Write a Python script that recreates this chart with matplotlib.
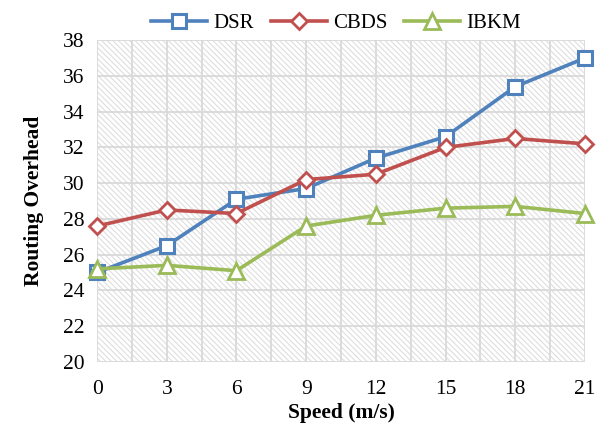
import numpy as np
import matplotlib.pyplot as plt
from matplotlib.patches import Rectangle

plt.rcParams['font.family'] = ['Liberation Serif', 'DejaVu Serif']
plt.rcParams['hatch.color'] = '#DEDEDE'
plt.rcParams['hatch.linewidth'] = 0.8

speed = [0, 3, 6, 9, 12, 15, 18, 21]
dsr = [25.0, 26.5, 29.1, 29.7, 31.4, 32.6, 35.4, 37.0]
cbds = [27.6, 28.5, 28.3, 30.2, 30.5, 32.0, 32.5, 32.2]
ibkm = [25.2, 25.4, 25.1, 27.6, 28.2, 28.6, 28.7, 28.3]

fig = plt.figure(figsize=(6.03, 4.37), dpi=100)
ax = fig.add_axes([0.161, 0.172, 0.809, 0.736])

# hatched plot area
ax.add_patch(Rectangle((0, 0), 1, 1, transform=ax.transAxes, facecolor='white',
                       edgecolor='#DEDEDE', hatch='\\\\\\\\\\\\', lw=0, zorder=0))

ax.plot(speed, dsr, color='#4F81BD', lw=2.6, marker='s', ms=10, mfc='white',
        mec='#4F81BD', mew=2.2, label='DSR', clip_on=False, zorder=3)
ax.plot(speed, cbds, color='#C0504D', lw=2.6, marker='D', ms=8, mfc='white',
        mec='#C0504D', mew=2.0, label='CBDS', clip_on=False, zorder=3)
ax.plot(speed, ibkm, color='#9BBB59', lw=2.6, marker='^', ms=11, mfc='white',
        mec='#9BBB59', mew=2.0, label='IBKM', clip_on=False, zorder=3)

ax.set_xlim(0, 21)
ax.set_ylim(20, 38)
ax.set_xticks(speed)
ax.set_xticks(np.arange(1.5, 21, 3), minor=True)
ax.set_yticks(np.arange(20, 39, 2))
ax.grid(True, which='both', color='#D9D9D9', lw=1.3, zorder=1)
ax.set_axisbelow(True)
for s in ax.spines.values():
    s.set_visible(False)
ax.tick_params(which='both', length=0, labelsize=15.5)
ax.tick_params(axis='x', pad=13)
ax.tick_params(axis='y', pad=9)

ax.set_xlabel('Speed (m/s)', fontsize=15.5, fontweight='bold', labelpad=3)
ax.set_ylabel('Routing Overhead', fontsize=15.5, fontweight='bold', labelpad=14)

ax.legend(loc='lower center', bbox_to_anchor=(0.49, 0.995), ncol=3, frameon=False,
          fontsize=15, handlelength=2.7, columnspacing=0.8, handletextpad=0.3,
          borderaxespad=0)

fig.savefig('out.png', dpi=100)
